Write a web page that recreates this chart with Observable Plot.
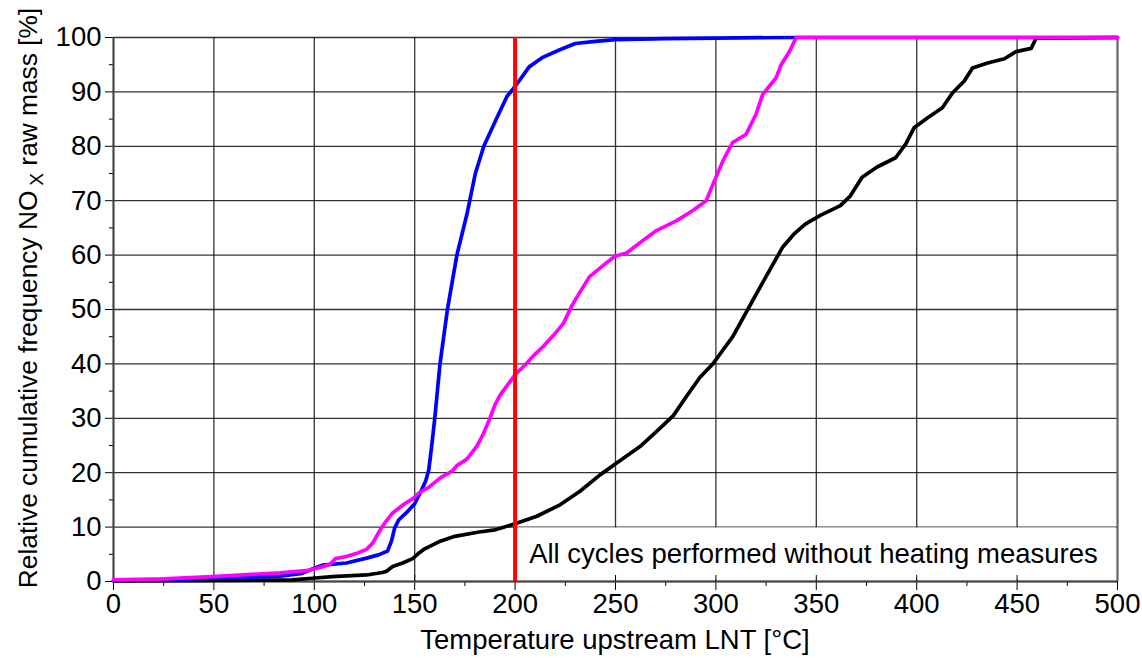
<!DOCTYPE html>
<html>
<head>
<meta charset="utf-8">
<script src="https://cdn.jsdelivr.net/npm/d3@7"></script>
<script src="https://cdn.jsdelivr.net/npm/@observablehq/plot@0.6"></script>
<style>
  html, body { margin: 0; padding: 0; background: #fff; }
  #chart svg { display: block; }
</style>
</head>
<body>
<div id="chart"></div>
<script>
// Cumulative NOx raw-mass share vs. temperature upstream of the LNT, three cycle sets
const blueTemp = [0, 20, 50, 83, 94, 99, 104, 116, 126, 132, 136.5, 138.5, 140, 142, 146, 150, 153, 155.5, 157, 158.5, 160, 162.6, 166.3, 171, 176, 180.2, 184.4, 191, 196, 200, 207, 214, 222, 230, 240, 250, 275, 300, 340, 500];
const bluePct  = [0.2, 0.3, 0.6, 1.0, 1.5, 2.3, 3.0, 3.4, 4.3, 4.9, 5.6, 7.5, 9.8, 11.3, 12.7, 14.3, 16.5, 18.5, 20.5, 25, 30, 40, 50, 60, 67.5, 75, 80, 85.3, 89.2, 91, 94.6, 96.4, 97.7, 98.9, 99.3, 99.6, 99.8, 99.9, 100, 100];

const magentaTemp = [0, 25, 49, 83, 96, 101, 107.5, 109, 110.5, 116, 122, 126, 129, 131, 133, 136, 139, 145, 149, 152.5, 157, 162.6, 169, 171, 176, 181, 184, 187.6, 190, 192.8, 196, 200, 205.8, 210, 214, 219, 224, 228, 232, 237, 243.9, 249.7, 255.5, 263.7, 270.4, 280.3, 288.6, 295.2, 298.5, 303.5, 308.4, 315, 320, 323.3, 330, 332.5, 336.6, 340, 500];
const magentaPct  = [0.3, 0.5, 0.9, 1.6, 2.0, 2.4, 3.1, 3.6, 4.2, 4.6, 5.3, 5.9, 7.0, 8.3, 9.6, 11.2, 12.6, 14.3, 15.2, 16.4, 17.3, 19.0, 20.4, 21.3, 22.5, 24.9, 27.0, 30.1, 32.5, 34.4, 36.0, 38.0, 40.1, 41.8, 43.2, 45.2, 47.4, 50.5, 53.0, 56.0, 58.1, 59.8, 60.4, 62.7, 64.5, 66.3, 68.2, 70.0, 73.0, 77.3, 80.7, 82.2, 85.9, 89.5, 92.6, 95.0, 97.4, 100, 100];

const blackTemp = [0, 49, 89, 99, 109, 126, 134, 136, 139, 144, 149, 152, 155, 162, 170, 182, 190, 200, 210.8, 222.4, 232.3, 242.3, 250.6, 262.2, 270.5, 278.8, 285.3, 292, 298.7, 303.6, 308.4, 318.4, 326.7, 333.3, 338.7, 344.5, 352, 362, 367, 372.8, 380.3, 389.5, 394.5, 398.7, 405.3, 412.8, 417.8, 423.7, 427.8, 435.3, 443.7, 449.5, 457, 459.5, 500];
const blackPct  = [0.1, 0.2, 0.3, 0.6, 0.9, 1.2, 1.65, 1.9, 2.75, 3.4, 4.2, 5.2, 6.0, 7.3, 8.3, 9.1, 9.5, 10.6, 12.0, 14.1, 16.6, 19.6, 21.8, 24.8, 27.6, 30.5, 34.0, 37.5, 40.1, 42.6, 45.0, 51.7, 57.2, 61.5, 63.8, 65.7, 67.3, 69.1, 70.9, 74.3, 76.2, 77.9, 80.4, 83.4, 85.2, 87.1, 89.8, 92.0, 94.4, 95.3, 96.1, 97.4, 98.0, 99.9, 100];

const xTicks = [0, 50, 100, 150, 200, 250, 300, 350, 400, 450, 500];
const xMinor = [25, 75, 125, 175, 225, 275, 325, 375, 425, 475];
const yTicks = [0, 10, 20, 30, 40, 50, 60, 70, 80, 90, 100];
const yMinor = [5, 15, 25, 35, 45, 55, 65, 75, 85, 95];

const limitTemp = 200;
const note = "All cycles performed without heating measures";
const xTitle = "Temperature upstream LNT [°C]";
const yTitle = ["Relative cumulative frequency NO", "X", " raw mass [%]"];

const toRows = (temps, pcts) => temps.map((t, i) => ({temp: t, pct: pcts[i]}));
const blackRows = toRows(blackTemp, blackPct);
const blueRows = toRows(blueTemp, bluePct);
const magentaRows = toRows(magentaTemp, magentaPct);

const font = "'Liberation Sans', Arial, Helvetica, sans-serif";
const fontSize = 27.5;
const yTitleSize = 26.3;
const gridStyle = {stroke: "#000", strokeOpacity: 0.8, strokeWidth: 1.3};
const lineStyle = {x: "temp", y: "pct", strokeWidth: 3.7, strokeLinejoin: "round", strokeLinecap: "round"};

const chart = Plot.plot({
  width: 1142,
  height: 658,
  marginLeft: 113,
  marginRight: 25,
  marginTop: 37,
  marginBottom: 77,
  x: {domain: [0, 500], label: null},
  y: {domain: [0, 100], label: null},
  style: {fontFamily: font, fontSize: `${fontSize}px`, color: "#000", background: "#fff", overflow: "visible"},
  marks: [
    Plot.gridX(xTicks, gridStyle),
    Plot.gridY(yTicks, gridStyle),
    // white panel behind the note, masking the grid in the lowest band
    Plot.rect([note], {x1: () => limitTemp + 1.4, x2: () => 499.4, y1: () => 0.25, y2: () => 9.85, fill: "#fff"}),
    Plot.axisX(xTicks, {tickSize: 9, tickPadding: 3, label: null, fontSize}),
    Plot.axisX(xTicks, {tickSize: -6, text: null, label: null}),
    Plot.axisX(xMinor, {tickSize: 5, text: null, label: null}),
    Plot.axisY(yTicks, {tickSize: 8, tickPadding: 4, label: null, fontSize}),
    Plot.axisY(yMinor, {tickSize: 4, text: null, label: null}),
    Plot.ruleY([0], {stroke: "#444", strokeWidth: 2}),
    Plot.ruleX([0], {stroke: "#444", strokeWidth: 2}),
    Plot.ruleX([500], {stroke: "#666", strokeWidth: 2}),
    Plot.line(blackRows, {...lineStyle, stroke: "#000000"}),
    Plot.line(blueRows, {...lineStyle, stroke: "#0000ff"}),
    Plot.line(magentaRows, {...lineStyle, stroke: "#ff00ff"}),
    Plot.ruleX([limitTemp], {y1: 0, y2: 100, stroke: "#ff0000", strokeWidth: 4}),
    Plot.text([note], {x: () => limitTemp + 7, y: () => 5, text: d => d, textAnchor: "start", lineAnchor: "middle", fontSize, fill: "#000"})
  ]
});

const svg = d3.select(chart);

svg.append("text")
  .attr("x", 615)
  .attr("y", 649)
  .attr("text-anchor", "middle")
  .attr("font-family", font)
  .attr("font-size", fontSize)
  .attr("fill", "#000")
  .text(xTitle);

const yLabel = svg.append("text")
  .attr("transform", "translate(37,298) rotate(-90)")
  .attr("text-anchor", "middle")
  .attr("font-family", font)
  .attr("font-size", yTitleSize)
  .attr("fill", "#000");
yLabel.append("tspan").text(yTitle[0]);
yLabel.append("tspan").attr("dx", 5).attr("dy", 6).attr("font-size", 19).text(yTitle[1]);
yLabel.append("tspan").attr("dy", -6).text(yTitle[2]);

document.getElementById("chart").append(chart);
</script>
</body>
</html>
